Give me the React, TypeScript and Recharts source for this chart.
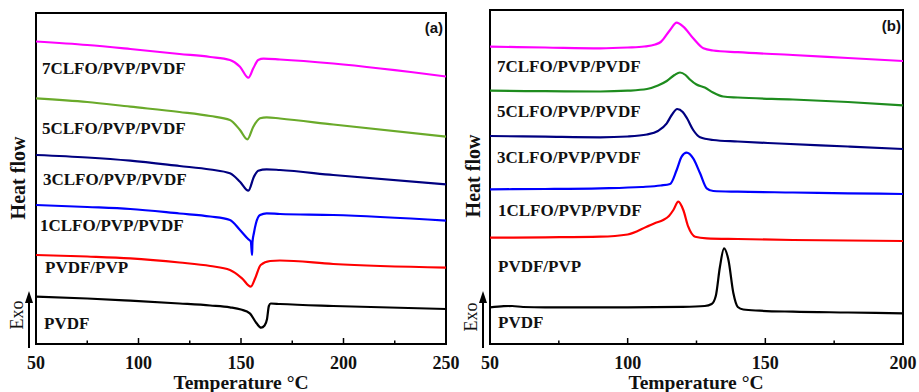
import { LineChart, Line, XAxis, YAxis, ReferenceArea } from "recharts";

const serif = "'Liberation Serif', 'Times New Roman', serif";
const sans = "'Liberation Sans', Arial, sans-serif";

// (a) heating scans: [temperature °C, heat flow (arb., stacked)]
const pvdfA = [[50, 46.3], [75, 44.5], [96, 42.3], [120, 39.5], [135, 37.5], [144.6, 35.7], [150, 33.5], [154.3, 29.7], [157.6, 19.7], [159.8, 15.3], [161.5, 17.5], [162.7, 24], [163.6, 37], [164.5, 39.5], [169, 39], [195, 37], [250, 34]];
const pvdfPvpA = [[50, 88], [75, 86.5], [96, 84.7], [120, 80.5], [135, 77], [144.6, 73], [150.5, 64.7], [154.8, 56.3], [156.9, 64.7], [159.6, 78], [164.2, 82], [169, 82.5], [195, 79], [250, 75.3]];
const clfo1A = [[50, 138], [75, 136], [96, 134], [120, 129.5], [135, 126.5], [144.6, 123], [149.5, 113], [153.6, 103.7], [154.8, 101.3], [155.4, 88], [155.6, 101], [156.3, 110], [157.3, 119.7], [159.3, 128], [162.5, 129.7], [169, 129], [195, 128], [250, 122.3]];
const clfo3A = [[50, 188], [75, 185.5], [96, 182.3], [120, 177], [135, 173.5], [144.6, 169.7], [149.5, 161.3], [153.6, 152.3], [156.3, 166.3], [158.4, 172.3], [162.5, 173.7], [169, 173], [195, 168], [250, 158.7]];
const clfo5A = [[50, 244.7], [75, 241], [96, 236.3], [120, 231], [135, 227], [144.6, 223], [149.5, 213], [153.1, 203.7], [156, 216.3], [159.3, 224.7], [162.5, 225.7], [169, 224.5], [195, 218.5], [250, 206.3]];
const clfo7A = [[50, 301.5], [75, 298], [96, 294], [120, 289], [135, 286], [144.6, 283], [149.5, 276.3], [153.6, 265.3], [156, 274.7], [158.4, 283], [161, 284.3], [169, 283.5], [195, 279.5], [250, 266.5]];

// (b) cooling scans
const pvdfB = [[50, 35.7], [55, 36.8], [58, 37], [62, 36], [70, 35.7], [100, 35.7], [120, 36.2], [128, 37], [130.5, 39], [132, 47], [133.5, 76], [135, 94.7], [136.6, 83], [138.4, 49.7], [140, 36], [142, 33.5], [148, 32.3], [160, 31.3], [180, 30.5], [200, 29.7]];
const pvdfPvpB = [[50, 105.3], [70, 105.7], [90, 106.3], [100, 108.5], [106.9, 116.3], [110, 120], [112.9, 123], [115, 127], [116.6, 133], [118.4, 141.3], [120.2, 133], [122, 116.3], [124.5, 106.3], [128.7, 104.7], [140, 104], [160, 103], [180, 102.5], [200, 102]];
const clfo1B = [[50, 153.7], [70, 154], [90, 154.7], [105, 156], [112, 157.5], [115.4, 159], [117.8, 173], [119.6, 186.3], [121.4, 190.3], [123.8, 184.7], [126.3, 169.7], [128.7, 154.7], [131.1, 152], [140, 151.3], [160, 150.5], [180, 149.7], [200, 149]];
const clfo3B = [[50, 207], [70, 206.3], [90, 205.7], [100, 206.5], [107, 208.5], [111, 212], [114.2, 219.7], [116, 228], [118, 234], [120, 231], [121.5, 225], [123.8, 213], [126.3, 205.7], [131, 203], [140, 201.5], [155, 199.5], [180, 196.5], [200, 194]];
const clfo5B = [[50, 252.3], [70, 251.8], [90, 251.5], [100, 252.3], [107, 254], [111, 257.5], [114.2, 262], [117, 268], [119, 270.5], [121, 268], [122.6, 263.5], [125, 258.5], [128, 255.5], [131, 250.5], [134.7, 246.5], [140, 245.5], [160, 243.5], [180, 241], [200, 237.7]];
const clfo7B = [[50, 296.3], [70, 295.5], [90, 294.7], [100, 295.5], [106, 296.5], [110, 298.5], [112, 301], [115.4, 313], [117.8, 320.3], [120.2, 316.3], [123.8, 304.7], [127.5, 294.7], [131, 292.5], [140, 290.8], [160, 288], [180, 285], [200, 282]];

const names = ["PVDF", "PVDF/PVP", "1CLFO/PVP/PVDF", "3CLFO/PVP/PVDF", "5CLFO/PVP/PVDF", "7CLFO/PVP/PVDF"];
const colorsA = ["#000000", "#ff0000", "#0000ff", "#000080", "#6aaa2a", "#ff00ff"];
const colorsB = ["#000000", "#ff0000", "#0000ff", "#000080", "#1e8c1e", "#ff00ff"];
const ticksA = [50, 75, 100, 125, 150, 175, 200, 225, 250];
const ticksB = [50, 75, 100, 125, 150, 175, 200];

// label placement (px)
const labelPosA = [[44, 323], [45, 267], [40, 225], [43, 179], [42, 128], [42, 68]];
const labelPosB = [[498, 322], [498, 266], [498, 210], [497, 157], [497, 111], [497, 66]];

const toPts = (arr: number[][]) => arr.map(([t, v]) => ({ t, v }));

const Tick = (props: any) => {
  const { x, y, payload } = props;
  const major = payload.value % 50 === 0;
  return (
    <g>
      <line x1={x} x2={x} y1={y} y2={y - (major ? 6 : 3.5)} stroke="#000" strokeWidth={1.5} />
      {major && (
        <text
          x={x}
          y={y + 19}
          textAnchor="middle"
          dominantBaseline="central"
          style={{ fontFamily: serif, fontWeight: 700, fontSize: 18 }}
          fill="#111"
        >
          {payload.value}
        </text>
      )}
    </g>
  );
};

function Panel({ series, colors, xMax, ticks, left, margin, yMax }: any) {
  return (
    <div style={{ position: "absolute", left, top: 0 }}>
      <LineChart width={460} height={392} margin={margin}>
        <XAxis
          type="number"
          dataKey="t"
          domain={[50, xMax]}
          ticks={ticks}
          interval={0}
          allowDataOverflow
          axisLine={false}
          tickLine={false}
          tickSize={0}
          tickMargin={0}
          tick={<Tick />}
          height={48}
        />
        <YAxis hide type="number" dataKey="v" domain={[-1, yMax]} allowDataOverflow />
        <ReferenceArea x1={50} x2={xMax} y1={-1} y2={yMax} fill="none" fillOpacity={0} stroke="#000" strokeWidth={2} />
        {series.map((s: number[][], i: number) => (
          <Line
            key={i}
            data={toPts(s)}
            dataKey="v"
            type="monotone"
            stroke={colors[i]}
            strokeWidth={2.2}
            dot={false}
            isAnimationActive={false}
          />
        ))}
      </LineChart>
    </div>
  );
}

function Side({ hx, hy, ax, ex, ey }: any) {
  return (
    <g>
      <text transform={`translate(${hx},${hy}) rotate(-90)`} textAnchor="middle" dominantBaseline="central" style={{ fontFamily: serif, fontWeight: 700, fontSize: 20 }} fill="#111">
        Heat flow
      </text>
      <line x1={ax} x2={ax} y1={348} y2={300} stroke="#000" strokeWidth={2} />
      <polygon points={`${ax},291 ${ax - 4},303 ${ax + 4},303`} fill="#000" />
      <text transform={`translate(${ex},${ey}) rotate(-90)`} textAnchor="middle" dominantBaseline="central" style={{ fontFamily: serif, fontSize: 18 }} fill="#111">
        Exo
      </text>
    </g>
  );
}

export default function App() {
  const seriesA = [pvdfA, pvdfPvpA, clfo1A, clfo3A, clfo5A, clfo7A];
  const seriesB = [pvdfB, pvdfPvpB, clfo1B, clfo3B, clfo5B, clfo7B];
  const lbl = { fontFamily: serif, fontWeight: 700, fontSize: 17 };
  const xLbl = { fontFamily: serif, fontWeight: 700, fontSize: 19.5 };
  return (
    <div style={{ position: "absolute", left: 0, top: 0, width: 919, height: 392, background: "#fff", overflow: "hidden" }}>
      <Panel series={seriesA} colors={colorsA} xMax={250} ticks={ticksA} left={0} margin={{ top: 13, left: 36, right: 14, bottom: 0 }} yMax={330} />
      <Panel series={seriesB} colors={colorsB} xMax={200} ticks={ticksB} left={459} margin={{ top: 10, left: 31, right: 16, bottom: 0 }} yMax={333} />
      <svg width={919} height={392} style={{ position: "absolute", left: 0, top: 0, pointerEvents: "none" }}>
        {names.map((n, i) => (
          <text key={`a${i}`} x={labelPosA[i][0]} y={labelPosA[i][1]} dominantBaseline="central" style={lbl} fill="#111">
            {n}
          </text>
        ))}
        {names.map((n, i) => (
          <text key={`b${i}`} x={labelPosB[i][0]} y={labelPosB[i][1]} dominantBaseline="central" style={lbl} fill="#111">
            {n}
          </text>
        ))}
        <text x={443} y={27} textAnchor="end" dominantBaseline="central" style={{ fontFamily: sans, fontWeight: 700, fontSize: 15 }} fill="#111">(a)</text>
        <text x={901} y={25} textAnchor="end" dominantBaseline="central" style={{ fontFamily: sans, fontWeight: 700, fontSize: 15 }} fill="#111">(b)</text>
        <Side hx={18} hy={178} ax={29} ex={17} ey={315} />
        <Side hx={473} hy={176} ax={483} ex={471} ey={317} />
        <text x={241} y={382} textAnchor="middle" dominantBaseline="central" style={xLbl} fill="#111">Temperature °C</text>
        <text x={696} y={382} textAnchor="middle" dominantBaseline="central" style={xLbl} fill="#111">Temperature °C</text>
      </svg>
    </div>
  );
}
